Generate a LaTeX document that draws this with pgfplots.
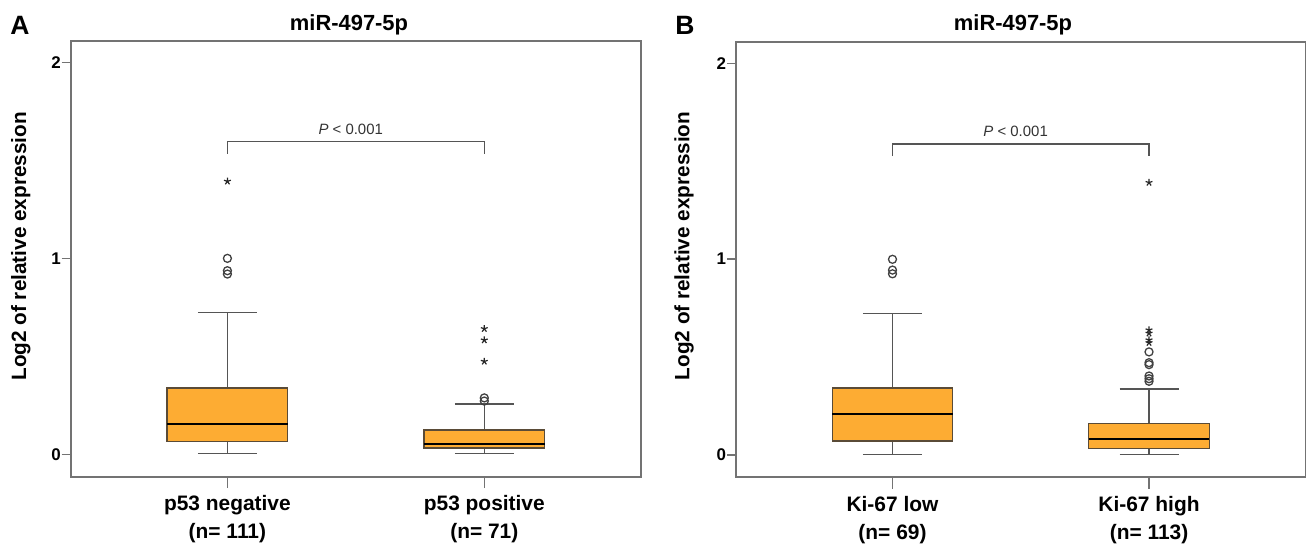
\documentclass[border=0pt]{standalone}
\usepackage{fontspec}
\setmainfont{Liberation Sans}
\usepackage{pgfplots}
\pgfplotsset{compat=1.18}
\usepgfplotslibrary{statistics}
\definecolor{boxorange}{RGB}{253,172,51}
\definecolor{framegray}{RGB}{115,115,115}
\definecolor{boxedge}{RGB}{90,75,55}
\definecolor{whisk}{RGB}{85,85,85}
\definecolor{outl}{RGB}{65,65,65}
\pgfplotsset{
  mybox/.style={
    scale only axis,
    xmin=0.39, xmax=2.61, ymin=-0.113, ymax=2.109,
    xtick={1,2}, ytick={0,1,2}, yticklabels={0,1,2},
    tick align=outside, tick pos=left,
    axis line style={framegray, line width=1bp},
    tick style={framegray, line width=0.8bp},
    major tick length=4.5bp,
    xtick style={/pgfplots/major tick length=5.75bp},
    yticklabel style={font=\fontsize{8.5}{10}\bfseries\selectfont, inner xsep=0.3bp},
    xticklabel style={align=center, font=\fontsize{10.5}{14}\bfseries\selectfont, yshift=-1.5bp},
    boxplot/draw direction=y,
    boxplot/every box/.style={fill=boxorange, draw=boxedge, line width=0.65bp},
    boxplot/every whisker/.style={draw=whisk, line width=0.7bp},
    boxplot/every median/.style={draw=black, line width=1.3bp},
    clip=false,
  },
  circ/.style={only marks, mark=o, mark size=2bp, mark options={draw=outl, line width=0.65bp}},
  stars/.style={only marks, mark=star, mark size=1.8bp, mark options={draw=black!85, line width=0.6bp}},
}
\begin{document}
\begin{tikzpicture}
\useasboundingbox (0,0) rectangle (653bp,-272bp);
% Panel A
\begin{axis}[mybox, at={(35.35bp,-238.25bp)}, anchor=south west,
  width=285.15bp, height=217.75bp,
  xticklabels={{p53 negative\\(n= 111)},{p53 positive\\(n= 71)}}]
\addplot[draw=whisk, boxplot prepared={lower whisker=0.003, lower quartile=0.066, median=0.155,
  upper quartile=0.338, upper whisker=0.725, draw position=1, box extend=0.47, whisker extend=0.23}]
  coordinates {};
\addplot[draw=whisk, boxplot prepared={lower whisker=0.003, lower quartile=0.032, median=0.052,
  upper quartile=0.125, upper whisker=0.256, draw position=2, box extend=0.47, whisker extend=0.23}]
  coordinates {};
\addplot[circ] coordinates {(1,1.0) (1,0.937) (1,0.92) (2,0.288) (2,0.272)};
\addplot[stars] coordinates {(1,1.393) (2,0.641) (2,0.583) (2,0.474)};
\draw[whisk, line width=0.7bp] (axis cs:1,1.533) -- (axis cs:1,1.595) -- (axis cs:2,1.595) -- (axis cs:2,1.533);
\node[font=\fontsize{7.5}{9}\selectfont, text=black!80] at (axis cs:1.48,1.66) {\textit{P} < 0.001};
\end{axis}
% Panel B
\begin{axis}[mybox, at={(368bp,-238.5bp)}, anchor=south west,
  width=284.75bp, height=217.5bp,
  xticklabels={{Ki-67 low\\(n= 69)},{Ki-67 high\\(n= 113)}}]
\addplot[draw=whisk, boxplot prepared={lower whisker=0.002, lower quartile=0.071, median=0.208,
  upper quartile=0.341, upper whisker=0.722, draw position=1, box extend=0.47, whisker extend=0.23}]
  coordinates {};
\addplot[draw=whisk, boxplot prepared={lower whisker=0.002, lower quartile=0.034, median=0.082,
  upper quartile=0.161, upper whisker=0.336, draw position=2, box extend=0.47, whisker extend=0.23}]
  coordinates {};
\addplot[circ] coordinates {(1,0.999) (1,0.944) (1,0.925) (2,0.526) (2,0.471) (2,0.461) (2,0.403) (2,0.389) (2,0.376)};
\addplot[stars] coordinates {(2,1.391) (2,0.638) (2,0.621) (2,0.587) (2,0.573)};
\draw[whisk, line width=0.7bp] (axis cs:1,1.526) -- (axis cs:1,1.587) -- (axis cs:2,1.587) -- (axis cs:2,1.526);
\node[font=\fontsize{7.5}{9}\selectfont, text=black!80] at (axis cs:1.48,1.654) {\textit{P} < 0.001};
\end{axis}
% titles, panel letters, y labels
\node[font=\fontsize{11}{13}\bfseries\selectfont] at (174.5bp,-12.3bp) {miR-497-5p};
\node[font=\fontsize{11}{13}\bfseries\selectfont] at (506.5bp,-12.3bp) {miR-497-5p};
\node[font=\fontsize{13.3}{15}\bfseries\selectfont] at (10bp,-12.5bp) {A};
\node[font=\fontsize{13.3}{15}\bfseries\selectfont] at (342.5bp,-12.5bp) {B};
\node[rotate=90, font=\fontsize{10.4}{12}\bfseries\selectfont] at (10.35bp,-123.2bp) {Log2 of relative expression};
\node[rotate=90, font=\fontsize{10.4}{12}\bfseries\selectfont] at (342bp,-123bp) {Log2 of relative expression};
\end{tikzpicture}
\end{document}
